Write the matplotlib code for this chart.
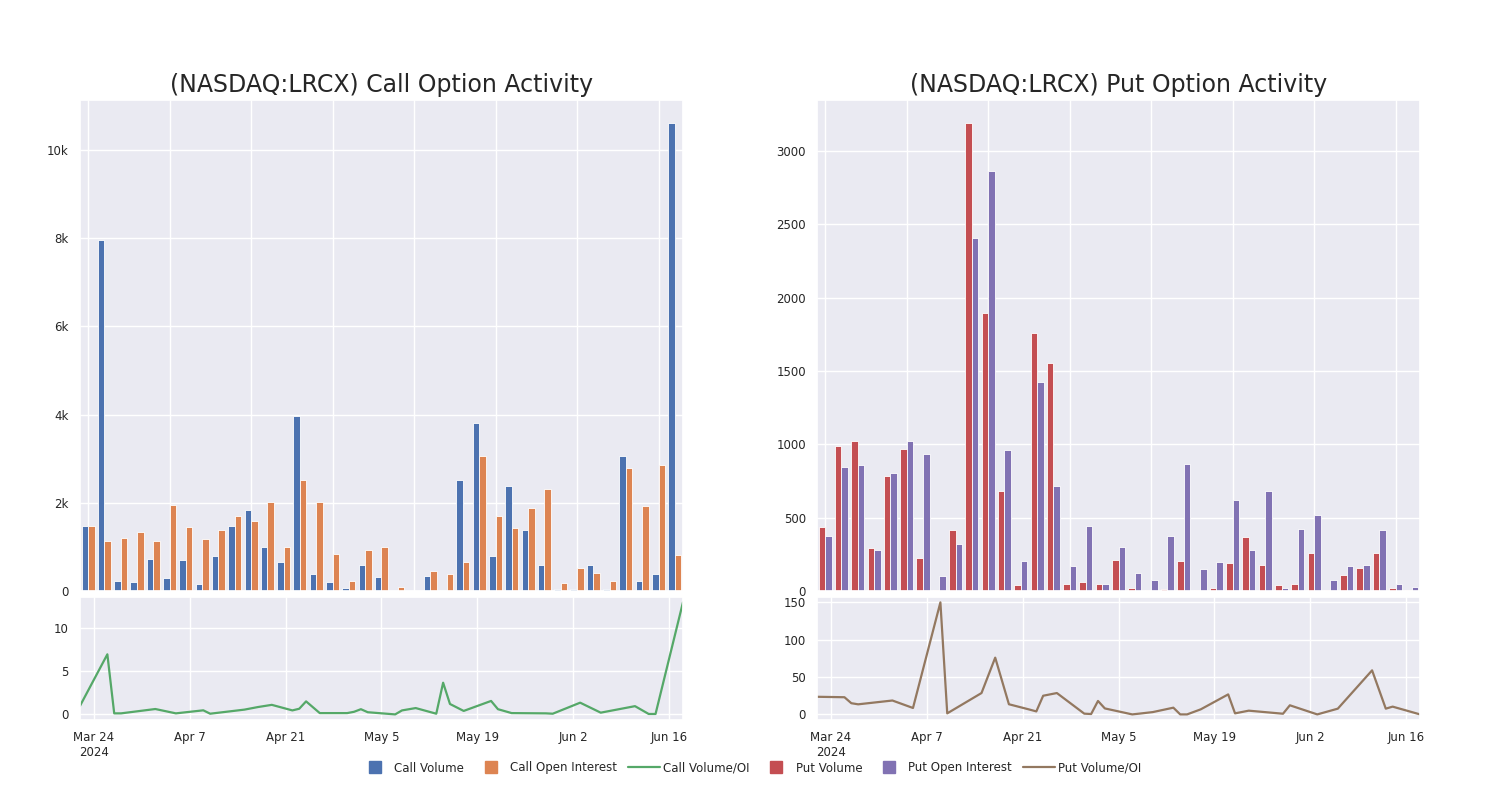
import numpy as np
import pandas as pd
import matplotlib
matplotlib.use("Agg")
import matplotlib.pyplot as plt
from matplotlib.lines import Line2D
from matplotlib.ticker import FuncFormatter, MultipleLocator
import seaborn as sns

sns.set_theme(style="darkgrid")
plt.rcParams['font.family'] = ['DejaVu Sans']

dates = pd.to_datetime([
    "2024-03-22", "2024-03-26", "2024-03-27", "2024-03-28", "2024-04-02",
    "2024-04-05", "2024-04-09", "2024-04-10", "2024-04-15", "2024-04-17",
    "2024-04-19", "2024-04-22", "2024-04-23", "2024-04-24", "2024-04-26",
    "2024-04-30", "2024-05-01", "2024-05-02", "2024-05-03", "2024-05-07",
    "2024-05-08", "2024-05-10", "2024-05-13", "2024-05-14", "2024-05-15",
    "2024-05-17", "2024-05-21", "2024-05-22", "2024-05-24", "2024-05-29",
    "2024-05-30", "2024-06-03", "2024-06-06", "2024-06-11", "2024-06-13",
    "2024-06-14", "2024-06-18"])

call_volume = [1477, 7955, 235, 205, 720, 303, 697, 159, 803, 1470,
               1841, 1008, 659, 3962, 379, 212, 76, 598, 311, 0,
               4, 341, 38, 2515, 3818, 788, 2386, 1386, 598, 45,
               60, 598, 53, 3061, 220, 394, 10598]
call_oi = [1485, 1129, 1197, 1349, 1136, 1947, 1447, 1189, 1379, 1705,
           1583, 2015, 1000, 2508, 2023, 841, 220, 924, 1000, 98,
           9, 462, 386, 667, 3068, 1697, 1432, 1894, 2311, 197,
           523, 409, 220, 2795, 1932, 2856, 811]
call_ratio = [0.97, 6.92, 0.12, 0.12, 0.62, 0.12, 0.47, 0.08, 0.55, 0.85,
              1.1, 0.46, 0.65, 1.5, 0.15, 0.15, 0.3, 0.6, 0.25, 0.0,
              0.46, 0.73, 0.08, 3.65, 1.2, 0.4, 1.55, 0.6, 0.15, 0.12,
              0.08, 1.35, 0.2, 0.95, 0.05, 0.05, 12.9]

put_volume = [435, 989, 1025, 296, 784, 966, 228, 11, 417, 3187,
              1898, 681, 39, 1759, 1556, 46, 64, 48, 212, 20,
              11, 16, 205, 11, 25, 194, 369, 178, 43, 52,
              262, 7, 107, 155, 260, 20, 5]
put_oi = [378, 845, 859, 280, 804, 1023, 934, 103, 323, 2406,
          2863, 959, 203, 1428, 718, 171, 446, 52, 303, 123,
          77, 378, 868, 150, 200, 620, 282, 681, 20, 421,
          517, 73, 175, 180, 419, 50, 30]
put_ratio = [23.6, 23.0, 15.0, 13.5, 18.6, 8.6, 150.0, 1.4, 28.6, 76.0,
             13.6, 6.5, 4.0, 25.0, 28.6, 1.0, 0.5, 18.0, 8.0, 0.0,
             1.0, 3.1, 9.0, 0.0, 0.0, 6.8, 26.8, 1.4, 5.0, 0.9,
             12.2, 0.0, 7.7, 59.0, 7.7, 10.4, 0.0]

tick_dates = pd.to_datetime(["2024-03-24", "2024-04-07", "2024-04-21",
                             "2024-05-05", "2024-05-19", "2024-06-02", "2024-06-16"])
tick_labels = ["Mar 24\n2024", "Apr 7", "Apr 21", "May 5", "May 19", "Jun 2", "Jun 16"]

blue, orange, green = "#4C72B0", "#DD8452", "#55A868"
red, purple, brown = "#C44E52", "#8172B3", "#937860"


def k_fmt(v, pos):
    if v == 0:
        return "0"
    return f"{int(v / 1000)}k"


def draw_panel(fig, left, title, vol, oi, ratio, c1, c2, c3, k_ticks):
    width = 0.402
    ax_top = fig.add_axes([left, 0.261, width, 0.614])
    ax_bot = fig.add_axes([left, 0.1, width, 0.154])

    x = np.arange(len(dates))
    ax_top.bar(x - 0.2, vol, width=0.4, color=c1, edgecolor="white", linewidth=0.6)
    ax_top.bar(x + 0.2, oi, width=0.4, color=c2, edgecolor="white", linewidth=0.6)
    ax_top.set_xlim(-0.5, len(dates) - 0.5)
    ax_top.xaxis.set_major_locator(MultipleLocator(5))
    ax_top.tick_params(axis="x", labelbottom=False, length=0)
    ax_top.tick_params(axis="y", labelsize=8.5, pad=2)
    if k_ticks:
        ax_top.yaxis.set_major_formatter(FuncFormatter(k_fmt))
    ax_top.set_title(title, fontsize=17)

    ax_bot.plot(dates, ratio, color=c3, linewidth=1.6)
    ax_bot.set_xlim(dates[0], dates[-1])
    ax_bot.set_xticks(tick_dates)
    ax_bot.set_xticklabels(tick_labels)
    ax_bot.tick_params(axis="both", labelsize=8.5, pad=2)
    return ax_top, ax_bot


fig = plt.figure(figsize=(15, 8), dpi=100)

draw_panel(fig, 0.0533, "(NASDAQ:LRCX) Call Option Activity",
           call_volume, call_oi, call_ratio, blue, orange, green, True)
ax_t, ax_b = draw_panel(fig, 0.5447, "(NASDAQ:LRCX) Put Option Activity",
                        put_volume, put_oi, put_ratio, red, purple, brown, False)
ax_b.set_yticks([0, 50, 100, 150])

handles = [
    Line2D([], [], marker="s", linestyle="none", color=blue, markersize=9),
    Line2D([], [], marker="s", linestyle="none", color=orange, markersize=9),
    Line2D([], [], color=green, linewidth=1.6),
    Line2D([], [], marker="s", linestyle="none", color=red, markersize=9),
    Line2D([], [], marker="s", linestyle="none", color=purple, markersize=9),
    Line2D([], [], color=brown, linewidth=1.6),
]
labels = ["Call Volume", "Call Open Interest", "Call Volume/OI",
          "Put Volume", "Put Open Interest", "Put Volume/OI"]
fig.legend(handles, labels, loc="center", bbox_to_anchor=(0.5, 0.04),
           ncol=6, frameon=False, fontsize=8.5, handlelength=2.7,
           handletextpad=0.3, columnspacing=0.9)

fig.savefig("out.png", dpi=100)
